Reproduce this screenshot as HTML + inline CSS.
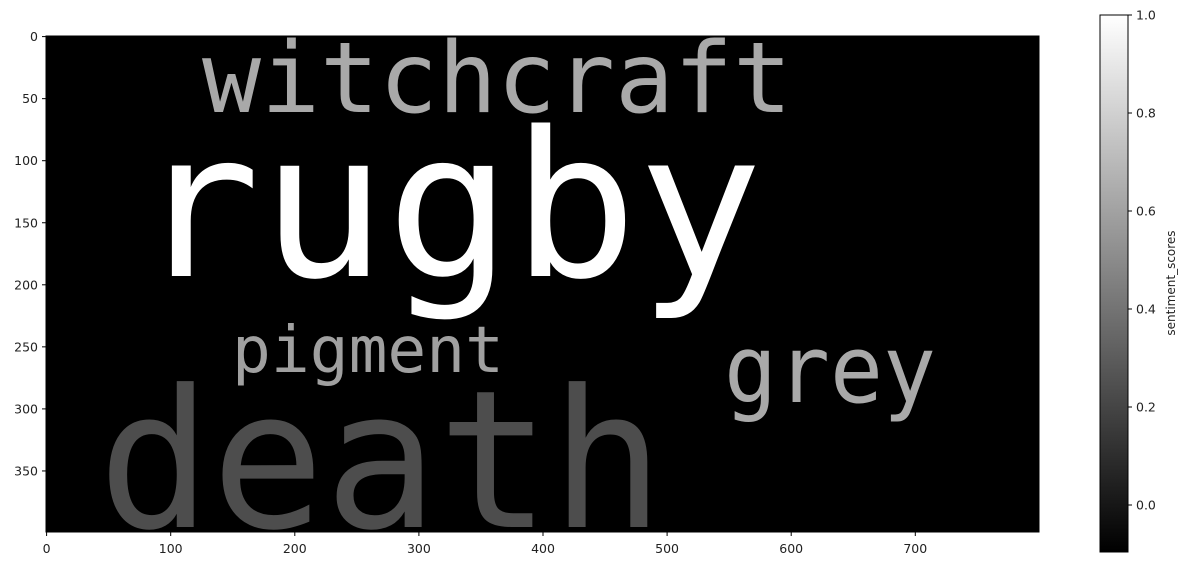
<!DOCTYPE html>
<html><head><meta charset="utf-8"><style>
body{margin:0;background:#fff;width:1188px;height:566px;overflow:hidden}
svg text{font-family:"DejaVu Sans","Liberation Sans",sans-serif}
.w{font-family:"DejaVu Sans Mono","Liberation Mono",monospace !important}
</style></head><body>
<svg id="c" width="1188" height="566">
<defs><linearGradient id="g" x1="0" y1="1" x2="0" y2="0"><stop offset="0" stop-color="#000"/><stop offset="1" stop-color="#fff"/></linearGradient></defs>
<rect x="46" y="36" width="993" height="496" fill="#000"/>
<g id="words"></g>
<rect x="46" y="36" width="993" height="496" fill="none" stroke="#000" stroke-width="1"/>
<g id="axes"></g>
<rect x="1100" y="15" width="28" height="537" fill="url(#g)" stroke="#000" stroke-width="1"/>
<text x="1175" y="283" font-size="12" text-anchor="middle" transform="rotate(-90 1175 283)" fill="#222">sentiment_scores</text>
</svg>
<script>
const words=["witchcraft","rugby","pigment","grey","death"];
const scores=[0.63,1.0,0.59,0.63,0.23];
const wx=[202,135,232,724,98];
const wy=[112,276,372,402,527];
const wsize=[98,202,64,94,192];
const wlen=[590,628,272,212,566];
const xTicks=[0,100,200,300,400,500,600,700];
const yTicks=[0,50,100,150,200,250,300,350];
const cbTicks=[0.0,0.2,0.4,0.6,0.8,1.0];
const NS="http://www.w3.org/2000/svg";
const sx=v=>46.6+v*1.241, sy=v=>36.6+v*1.241, cy=v=>505-v*490;
function mk(t,a,p){const e=document.createElementNS(NS,t);for(const k in a)e.setAttribute(k,a[k]);p.appendChild(e);return e;}
const W=document.getElementById('words'),A=document.getElementById('axes');
words.forEach((w,i)=>{const g=Math.round(255*Math.max(0,Math.min(1,(scores[i]+0.1)/1.1)));
const t=mk('text',{x:wx[i],y:wy[i],'font-size':wsize[i],fill:`rgb(${g},${g},${g})`,class:'w',textLength:wlen[i],lengthAdjust:'spacingAndGlyphs'},W);t.textContent=w;

});
xTicks.forEach(v=>{const x=sx(v);mk('line',{x1:x,x2:x,y1:532,y2:536,stroke:'#000'},A);
const t=mk('text',{x:x,y:553,'font-size':12.5,'text-anchor':'middle',fill:'#222'},A);t.textContent=v;

});
yTicks.forEach(v=>{const y=sy(v);mk('line',{x1:42,x2:46,y1:y,y2:y,stroke:'#000'},A);
const t=mk('text',{x:38,y:y+4.5,'font-size':12.5,'text-anchor':'end',fill:'#222'},A);t.textContent=v;

});
cbTicks.forEach(v=>{const y=cy(v);mk('line',{x1:1128,x2:1132,y1:y,y2:y,stroke:'#000'},A);
const t=mk('text',{x:1136,y:y+4.5,'font-size':12.5,fill:'#222'},A);t.textContent=v.toFixed(1);

});
</script>
</body></html>
